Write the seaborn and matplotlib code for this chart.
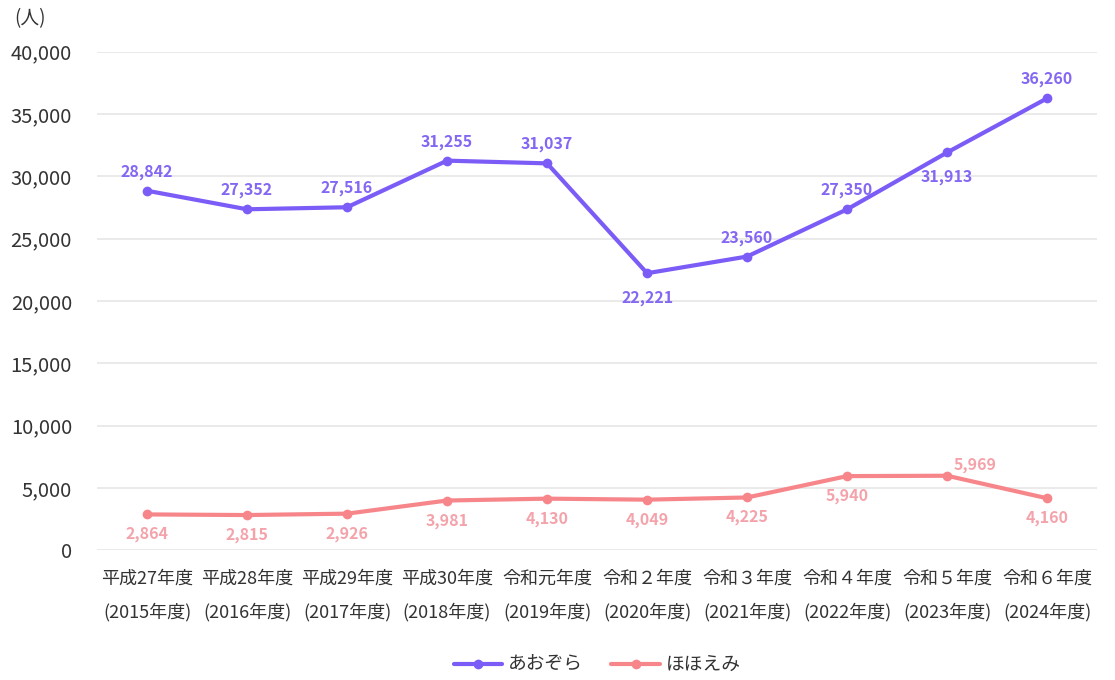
import numpy as np
import pandas as pd
import matplotlib.pyplot as plt
import seaborn as sns

# --- DATA ---
years = ["平成27年度\n(2015年度)", "平成28年度\n(2016年度)", "平成29年度\n(2017年度)",
         "平成30年度\n(2018年度)", "令和元年度\n(2019年度)", "令和２年度\n(2020年度)",
         "令和３年度\n(2021年度)", "令和４年度\n(2022年度)", "令和５年度\n(2023年度)",
         "令和６年度\n(2024年度)"]
aozora = [28842, 27352, 27516, 31255, 31037, 22221, 23560, 27350, 31913, 36260]
hohoemi = [2864, 2815, 2926, 3981, 4130, 4049, 4225, 5940, 5969, 4160]
series_names = ["あおぞら", "ほほえみ"]

# label placement: 1 = above, -1 = below
aozora_pos = [1, 1, 1, 1, 1, -1, 1, 1, -1, 1]
hohoemi_pos = [-1, -1, -1, -1, -1, -1, -1, -1, 1, -1]

PURPLE = "#7b5cf6"
PINK = "#f7868b"
PURPLE_TXT = "#8467f2"
PINK_TXT = "#f4a3ab"

sns.set_theme(style="white")
plt.rcParams['font.family'] = ['Noto Sans CJK JP', 'DejaVu Sans']

df = pd.DataFrame({
    "x": list(range(len(years))) * 2,
    "value": aozora + hohoemi,
    "series": [series_names[0]] * len(years) + [series_names[1]] * len(years),
})

fig = plt.figure(figsize=(11.15, 6.8), dpi=100)
ax = fig.add_axes([0.087, 0.191, 0.897, 0.733])

sns.lineplot(data=df, x="x", y="value", hue="series",
             palette=[PURPLE, PINK], marker="o", markersize=7,
             markeredgewidth=0, linewidth=3, ax=ax)

ax.set_xlim(-0.5, len(years) - 0.5)
ax.set_ylim(0, 40000)
ax.set_yticks(np.arange(0, 40001, 5000))
ax.set_yticklabels([f"{v:,}" for v in range(0, 40001, 5000)], fontsize=14.5, color="#333333")
ax.set_xticks(range(len(years)))
ax.set_xticklabels(years, fontsize=13, color="#333333", linespacing=2.0)
ax.tick_params(axis="x", length=0, pad=14)
ax.tick_params(axis="y", length=0, pad=18)
ax.set_xlabel("")
ax.set_ylabel("")
ax.yaxis.grid(True, color="#e6e6e6", linewidth=1.2)
for s in ax.spines.values():
    s.set_visible(False)

ax.text(-0.083, 1.045, "(人)", transform=ax.transAxes, fontsize=13.5,
        color="#333333", ha="left", va="bottom")

for i, (v, p) in enumerate(zip(aozora, aozora_pos)):
    ax.annotate(f"{v:,}", (i, v), xytext=(0, 19 * p if p > 0 else -25),
                textcoords="offset pixels",
                ha="center", va="center", fontsize=11.5, fontweight="bold",
                color=PURPLE_TXT)

for i, (v, p) in enumerate(zip(hohoemi, hohoemi_pos)):
    off = (28, 11) if p > 0 else (0, -20)
    ax.annotate(f"{v:,}", (i, v), xytext=off, textcoords="offset pixels",
                ha="center", va="center", fontsize=11.5, fontweight="bold",
                color=PINK_TXT)

leg = ax.legend(loc="upper center", bbox_to_anchor=(0.5, -0.175), ncol=2,
                frameon=False, fontsize=13.5, handlelength=2.6,
                columnspacing=1.5, handletextpad=0.3)
for t in leg.get_texts():
    t.set_color("#333333")

fig.savefig("out.png", dpi=100)
